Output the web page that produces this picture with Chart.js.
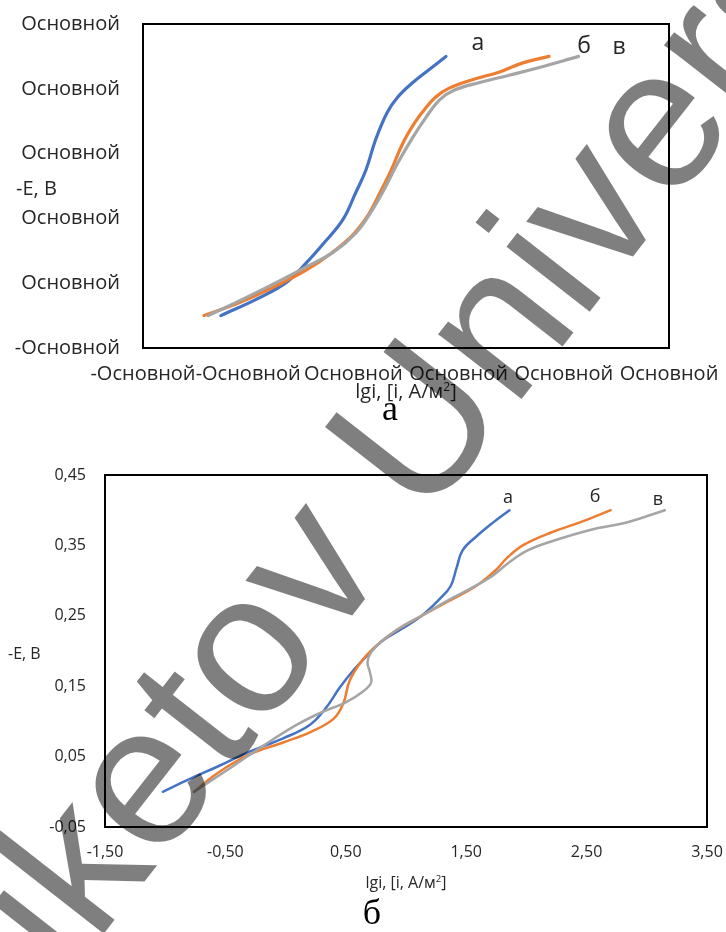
<!DOCTYPE html>
<html>
<head>
<meta charset="utf-8">
<script src="https://cdn.jsdelivr.net/npm/chart.js@4.4.1/dist/chart.umd.min.js"></script>
<style>
  html, body { margin: 0; padding: 0; background: #fff; }
  #page { position: relative; width: 726px; height: 932px; overflow: hidden; background: #fff; }
  canvas { position: absolute; left: 0; }
  .t { position: absolute; white-space: nowrap; line-height: 1; transform: translate(-50%, -50%); font-family: "Open Sans", sans-serif; color: #262626; }
  .tl { position: absolute; white-space: nowrap; line-height: 1; transform: translate(0, -50%); font-family: "Open Sans", sans-serif; color: #262626; }
  .cap { position: absolute; white-space: nowrap; line-height: 1; transform: translate(-50%, -50%); font-family: "Liberation Serif", "DejaVu Serif", serif; color: #000; font-size: 36px; }
  #wm { position: absolute; left: -55px; top: 968px; white-space: nowrap; line-height: 1;
        font-family: "Liberation Sans", Arial, sans-serif; font-size: 200px; color: rgba(0,0,0,0.5);
        transform-origin: 0 169px; transform: rotate(-52deg); pointer-events: none; z-index: 10; }
</style>
</head>
<body>
<div id="page">
  <canvas id="top" width="726" height="400" style="top:0px"></canvas>
  <canvas id="bot" width="726" height="440" style="top:440px"></canvas>

  <div class="tl" style="left:16px; top:188px; font-size:20px;">-E, В</div>
  <div class="t" style="left:406px; top:391px; font-size:20px;">lgi, [i, A/м<sup style="font-size:0.6em;vertical-align:0.6em;line-height:0">2</sup>]</div>
  <div class="cap" style="left:390px; top:408px;">а</div>
  <div class="t" style="left:478px; top:41px; font-size:23px;">а</div>
  <div class="t" style="left:584px; top:44px; font-size:23px;">б</div>
  <div class="t" style="left:619px; top:45px; font-size:23px;">в</div>

  <div class="tl" style="left:8px; top:653px; font-size:16px;">-E, В</div>
  <div class="t" style="left:406px; top:882px; font-size:16px;">lgi, [i, A/м<sup style="font-size:0.6em;vertical-align:0.6em;line-height:0">2</sup>]</div>
  <div class="cap" style="left:372px; top:912px;">б</div>
  <div class="t" style="left:508px; top:496px; font-size:18px;">а</div>
  <div class="t" style="left:595px; top:495px; font-size:18px;">б</div>
  <div class="t" style="left:658px; top:498px; font-size:18px;">в</div>

  <div id="wm">Buketov University</div>
</div>
<script>
// ---------- tick labels ----------
const topXTickLabels = ['-Основной', '-Основной', 'Основной', 'Основной', 'Основной', 'Основной'];
const topYTickLabels = ['-Основной', 'Основной', 'Основной', 'Основной', 'Основной', 'Основной'];
const botXTickLabels = ['-1,50', '-0,50', '0,50', '1,50', '2,50', '3,50'];
const botYTickLabels = ['-0,05', '0,05', '0,15', '0,25', '0,35', '0,45'];

// ---------- chart "а" (top) ----------
const topA_lgi = [-0.76, -0.40, -0.13, 0.05, 0.22, 0.40, 0.52, 0.62, 0.71, 0.82, 0.92, 1.06, 1.24, 1.38];
const topA_E   = [0.000, 0.027, 0.052, 0.081, 0.112, 0.148, 0.189, 0.225, 0.271, 0.313, 0.337, 0.359, 0.382, 0.400];
const topB_lgi = [-0.92, -0.57, -0.22, 0.05, 0.27, 0.49, 0.64, 0.75, 0.86, 0.97, 1.08, 1.17, 1.28, 1.41, 1.63, 1.89, 2.11, 2.36];
const topB_E   = [0.000, 0.021, 0.047, 0.070, 0.094, 0.124, 0.155, 0.189, 0.225, 0.266, 0.297, 0.317, 0.337, 0.351, 0.364, 0.376, 0.390, 0.400];
const topV_lgi = [-0.88, -0.53, -0.22, 0.05, 0.31, 0.52, 0.66, 0.79, 0.92, 1.06, 1.19, 1.32, 1.46, 1.71, 1.98, 2.25, 2.64];
const topV_E   = [0.000, 0.027, 0.052, 0.075, 0.098, 0.127, 0.158, 0.194, 0.235, 0.274, 0.306, 0.333, 0.348, 0.360, 0.371, 0.382, 0.400];

// ---------- chart "б" (bottom) ----------
const botA_lgi = [-1.02, -0.80, -0.55, -0.30, -0.02, 0.20, 0.33, 0.45, 0.57, 0.68, 0.80, 0.97, 1.13, 1.28, 1.37, 1.42, 1.47, 1.58, 1.72, 1.86];
const botA_E   = [0.000, 0.018, 0.037, 0.057, 0.076, 0.095, 0.118, 0.148, 0.174, 0.194, 0.214, 0.232, 0.250, 0.274, 0.292, 0.318, 0.343, 0.362, 0.382, 0.400];
const botB_lgi = [-0.76, -0.57, -0.30, -0.02, 0.22, 0.40, 0.48, 0.53, 0.62, 0.73, 0.89, 1.12, 1.30, 1.48, 1.62, 1.74, 1.85, 1.98, 2.20, 2.45, 2.70];
const botB_E   = [0.000, 0.026, 0.053, 0.070, 0.086, 0.104, 0.126, 0.157, 0.183, 0.204, 0.226, 0.249, 0.266, 0.282, 0.297, 0.314, 0.334, 0.351, 0.368, 0.383, 0.400];
const botV_lgi = [-0.76, -0.44, -0.18, 0.08, 0.30, 0.50, 0.64, 0.71, 0.70, 0.68, 0.71, 0.79, 0.95, 1.17, 1.36, 1.55, 1.72, 1.85, 2.01, 2.25, 2.53, 2.84, 3.15];
const botV_E   = [0.000, 0.036, 0.066, 0.094, 0.113, 0.127, 0.142, 0.155, 0.170, 0.184, 0.198, 0.213, 0.233, 0.254, 0.273, 0.290, 0.307, 0.325, 0.343, 0.358, 0.372, 0.383, 0.400];

const seriesColors = ['#4472C4', '#ED7D31', '#A5A5A5'];

function pts(xs, ys) { return xs.map((x, i) => ({ x: x, y: ys[i] })); }

const boxPlugin = {
  id: 'plotBox',
  afterDraw(chart, args, opts) {
    const { ctx, chartArea: a } = chart;
    ctx.save();
    ctx.strokeStyle = '#000';
    ctx.lineWidth = opts.width || 2;
    ctx.strokeRect(a.left, a.top, a.right - a.left, a.bottom - a.top);
    ctx.restore();
  }
};

function makeChart(id, series, cfg) {
  const datasets = series.map((s, i) => ({
    data: pts(s[0], s[1]),
    showLine: true,
    borderColor: seriesColors[i],
    backgroundColor: seriesColors[i],
    borderWidth: cfg.lineWidth,
    pointRadius: 0,
    tension: 0.4,
    borderCapStyle: 'round',
    order: 2 - i
  }));
  return new Chart(document.getElementById(id), {
    type: 'scatter',
    data: { datasets },
    options: {
      responsive: false,
      animation: false,
      devicePixelRatio: 1,
      layout: { padding: cfg.padding },
      plugins: { legend: { display: false }, tooltip: { enabled: false }, plotBox: { width: 2 } },
      scales: {
        x: {
          type: 'linear', min: -1.5, max: 3.5,
          grid: { display: false, drawTicks: false }, border: { display: false },
          ticks: { stepSize: 1, autoSkip: false, maxRotation: 0, minRotation: 0,
                   padding: cfg.xPad, color: '#262626',
                   font: { family: 'Open Sans', size: cfg.font },
                   callback: (v, i) => cfg.xLabels[i] },
          afterFit: s => { s.height = cfg.xHeight; s.paddingLeft = 0; s.paddingRight = 0; }
        },
        y: {
          type: 'linear', min: -0.05, max: 0.45,
          grid: { display: false, drawTicks: false }, border: { display: false },
          ticks: { stepSize: 0.1, autoSkip: false, padding: cfg.yPad, color: '#262626',
                   font: { family: 'Open Sans', size: cfg.font },
                   callback: (v, i) => cfg.yLabels[i] },
          afterFit: s => { s.width = cfg.yWidth; s.paddingTop = 0; s.paddingBottom = 0; }
        }
      }
    },
    plugins: [boxPlugin]
  });
}

makeChart('top', [[topA_lgi, topA_E], [topB_lgi, topB_E], [topV_lgi, topV_E]], {
  lineWidth: 3.2, font: 20, padding: { top: 24, right: 57, left: 0, bottom: 0 },
  xHeight: 52, yWidth: 143, xPad: 14, yPad: 23, xLabels: topXTickLabels, yLabels: topYTickLabels
});
makeChart('bot', [[botA_lgi, botA_E], [botB_lgi, botB_E], [botV_lgi, botV_E]], {
  lineWidth: 2.5, font: 16, padding: { top: 35, right: 19, left: 0, bottom: 0 },
  xHeight: 53, yWidth: 105, xPad: 16, yPad: 19, xLabels: botXTickLabels, yLabels: botYTickLabels
});
</script>
</body>
</html>
